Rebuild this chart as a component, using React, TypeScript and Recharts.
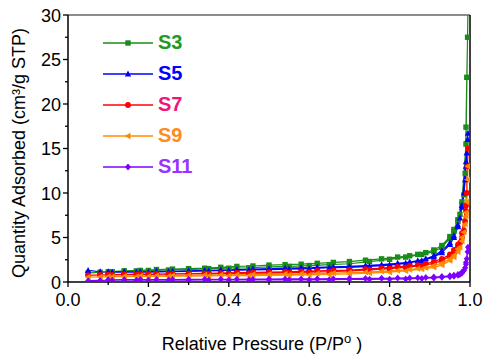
import { LineChart, Line, XAxis, YAxis } from "recharts";

// relative pressure (P/Po) of the adsorption and desorption branches
const P_ADS = [0.05, 0.08, 0.11, 0.14, 0.17, 0.2, 0.25, 0.3, 0.35, 0.4, 0.45, 0.5, 0.55, 0.6, 0.65, 0.7, 0.75, 0.8, 0.84, 0.88, 0.91, 0.93, 0.95, 0.96, 0.97, 0.975, 0.98, 0.985, 0.988, 0.99, 0.992, 0.994, 0.995];
const P_DES = [0.99, 0.98, 0.97, 0.96, 0.95, 0.93, 0.91, 0.89, 0.87, 0.85, 0.82, 0.78, 0.74, 0.7, 0.66, 0.62, 0.58, 0.54, 0.5, 0.46, 0.42, 0.38, 0.34, 0.3, 0.26, 0.22, 0.18, 0.14, 0.1];

// quantity adsorbed, cm3/g STP
const S3_ADS = [1.0, 1.1, 1.15, 1.2, 1.25, 1.3, 1.35, 1.4, 1.5, 1.55, 1.6, 1.7, 1.75, 1.85, 1.95, 2.05, 2.3, 2.55, 2.8, 3.1, 3.4, 3.9, 4.9, 5.7, 6.8, 7.6, 8.7, 9.8, 12.2, 17.4, 23, 27.5, 31];
const S3_DES = [15.5, 9.0, 7.0, 5.9, 5.1, 4.1, 3.6, 3.3, 3.1, 2.95, 2.8, 2.6, 2.45, 2.3, 2.2, 2.1, 2.0, 1.95, 1.9, 1.8, 1.75, 1.65, 1.55, 1.5, 1.45, 1.4, 1.3, 1.25, 1.15];
const S5_ADS = [1.3, 1.15, 1.1, 1.1, 1.1, 1.1, 1.15, 1.2, 1.25, 1.3, 1.35, 1.4, 1.45, 1.5, 1.6, 1.65, 1.75, 1.9, 2.1, 2.4, 2.8, 3.3, 4.2, 5.0, 6.2, 7.2, 8.4, 10, 11.5, 13, 14.5, 16, 16.7];
const S5_DES = [13.5, 8.6, 6.4, 5.2, 4.4, 3.5, 2.95, 2.6, 2.4, 2.25, 2.1, 1.95, 1.85, 1.75, 1.7, 1.65, 1.6, 1.55, 1.5, 1.45, 1.4, 1.35, 1.3, 1.25, 1.2, 1.2, 1.15, 1.15, 1.15];
const S7_ADS = [0.75, 0.8, 0.8, 0.82, 0.85, 0.85, 0.88, 0.9, 0.92, 0.95, 0.98, 1.0, 1.05, 1.1, 1.15, 1.25, 1.35, 1.5, 1.65, 1.85, 2.1, 2.4, 2.9, 3.3, 3.9, 4.4, 5.0, 5.8, 6.8, 8.0, 10, 13, 15];
const S7_DES = [8.6, 5.5, 4.2, 3.6, 3.1, 2.6, 2.3, 2.05, 1.9, 1.8, 1.7, 1.55, 1.45, 1.35, 1.3, 1.25, 1.2, 1.15, 1.1, 1.08, 1.05, 1.0, 0.98, 0.95, 0.92, 0.9, 0.88, 0.85, 0.82];
const S9_ADS = [0.55, 0.58, 0.6, 0.6, 0.62, 0.62, 0.65, 0.66, 0.68, 0.7, 0.72, 0.75, 0.78, 0.8, 0.85, 0.9, 1.0, 1.1, 1.25, 1.45, 1.65, 1.9, 2.4, 2.8, 3.4, 3.9, 4.6, 5.6, 6.5, 7.4, 9, 11.5, 13];
const S9_DES = [7.8, 5.0, 3.7, 3.0, 2.6, 2.1, 1.85, 1.6, 1.5, 1.4, 1.3, 1.2, 1.1, 1.05, 1.0, 0.95, 0.92, 0.9, 0.88, 0.85, 0.82, 0.8, 0.78, 0.75, 0.72, 0.7, 0.68, 0.66, 0.62];
const S11_ADS = [0.15, 0.18, 0.2, 0.2, 0.2, 0.22, 0.22, 0.22, 0.23, 0.23, 0.24, 0.24, 0.25, 0.25, 0.26, 0.28, 0.3, 0.32, 0.35, 0.4, 0.45, 0.52, 0.6, 0.65, 0.75, 0.85, 1.0, 1.3, 1.6, 2.0, 2.6, 3.4, 3.9];
const S11_DES = [2.2, 1.1, 0.85, 0.75, 0.7, 0.62, 0.55, 0.5, 0.48, 0.46, 0.44, 0.42, 0.4, 0.38, 0.37, 0.36, 0.35, 0.34, 0.33, 0.32, 0.31, 0.3, 0.3, 0.29, 0.28, 0.28, 0.27, 0.26, 0.25];

const X_TICKS = [0, 0.1, 0.2, 0.3, 0.4, 0.5, 0.6, 0.7, 0.8, 0.9, 1.0];
const Y_TICKS = [0, 2.5, 5, 7.5, 10, 12.5, 15, 17.5, 20, 22.5, 25, 27.5, 30];
const Y_MAJOR = [0, 5, 10, 15, 20, 25, 30];

const FONT = "'Liberation Sans', Arial, sans-serif";

type Shape = "square" | "triangle" | "circle" | "left" | "diamond";

const SERIES: { name: string; ads: number[]; des: number[]; color: string; label: string; shape: Shape }[] = [
  { name: "S3", ads: S3_ADS, des: S3_DES, color: "#1a8c1a", label: "#229a22", shape: "square" },
  { name: "S5", ads: S5_ADS, des: S5_DES, color: "#0000ff", label: "#0000ff", shape: "triangle" },
  { name: "S7", ads: S7_ADS, des: S7_DES, color: "#ff0000", label: "#f0157a", shape: "circle" },
  { name: "S9", ads: S9_ADS, des: S9_DES, color: "#ff8c00", label: "#ff8c1a", shape: "left" },
  { name: "S11", ads: S11_ADS, des: S11_DES, color: "#8000ff", label: "#9933ff", shape: "diamond" },
];

function toPoints(ads: number[], des: number[]) {
  return [
    ...P_ADS.map((p, i) => ({ p, q: ads[i] })),
    ...P_DES.map((p, i) => ({ p, q: des[i] })),
  ];
}

function Marker({ cx, cy, shape, color }: { cx: number; cy: number; shape: Shape; color: string }) {
  if (shape === "square") return <rect x={cx - 2.7} y={cy - 2.7} width={5.4} height={5.4} fill={color} />;
  if (shape === "triangle")
    return <path d={`M${cx},${cy - 3.5}L${cx + 3.2},${cy + 2.5}L${cx - 3.2},${cy + 2.5}Z`} fill={color} />;
  if (shape === "circle") return <circle cx={cx} cy={cy} r={2.9} fill={color} />;
  if (shape === "left")
    return <path d={`M${cx - 3.5},${cy}L${cx + 2.5},${cy - 3.2}L${cx + 2.5},${cy + 3.2}Z`} fill={color} />;
  return <path d={`M${cx},${cy - 3.5}L${cx + 3},${cy}L${cx},${cy + 3.5}L${cx - 3},${cy}Z`} fill={color} />;
}

function BottomTick({ x, y, payload }: any) {
  const major = Math.round(payload.value * 10) % 2 === 0;
  return (
    <g>
      <line x1={x} x2={x} y1={y} y2={y + (major ? 5 : 3)} stroke="#000" strokeWidth={1.3} />
      {major && (
        <text x={x} y={y + 24} textAnchor="middle" fontSize={18} fontFamily={FONT} fill="#000">
          {payload.value.toFixed(1)}
        </text>
      )}
    </g>
  );
}

function TopTick({ x, y }: any) {
  return <line x1={x} x2={x} y1={y} y2={y + 4} stroke="#000" strokeWidth={1.2} />;
}

function LeftTick({ x, y, payload }: any) {
  const major = Y_MAJOR.includes(payload.value);
  return (
    <g>
      <line x1={x} x2={x - (major ? 5 : 3)} y1={y} y2={y} stroke="#000" strokeWidth={1.3} />
      {major && (
        <text x={x - 7} y={y + 6.5} textAnchor="end" fontSize={18} fontFamily={FONT} fill="#000">
          {payload.value}
        </text>
      )}
    </g>
  );
}

function RightTick({ x, y }: any) {
  return <line x1={x} x2={x - 4} y1={y} y2={y} stroke="#000" strokeWidth={1.2} />;
}

export default function App() {
  return (
    <div style={{ position: "absolute", left: 0, top: 0, width: 485, height: 355, background: "#fff" }}>
      <LineChart width={485} height={355} margin={{ top: 10, right: 0, bottom: 43, left: 18 }}>
        <XAxis
          dataKey="p"
          type="number"
          domain={[0, 1]}
          ticks={X_TICKS}
          allowDataOverflow
          tickLine={false}
          tickSize={0}
          tickMargin={0}
          height={30}
          axisLine={{ stroke: "#000", strokeWidth: 1.5 }}
          tick={<BottomTick />}
          interval={0}
        />
        <XAxis
          xAxisId="top"
          orientation="top"
          dataKey="p"
          type="number"
          domain={[0, 1]}
          ticks={X_TICKS}
          tickLine={false}
          tickSize={0}
          tickMargin={0}
          height={5}
          axisLine={{ stroke: "#666", strokeWidth: 1.5 }}
          tick={<TopTick />}
          interval={0}
        />
        <YAxis
          type="number"
          domain={[0, 30]}
          ticks={Y_TICKS}
          allowDataOverflow
          tickLine={false}
          tickSize={0}
          tickMargin={0}
          width={50}
          axisLine={{ stroke: "#000", strokeWidth: 1.5 }}
          tick={<LeftTick />}
          interval={0}
        />
        <YAxis
          yAxisId="right"
          orientation="right"
          type="number"
          domain={[0, 30]}
          ticks={Y_MAJOR}
          tickLine={false}
          tickSize={0}
          tickMargin={0}
          width={15}
          axisLine={{ stroke: "#000", strokeWidth: 1.5 }}
          tick={<RightTick />}
          interval={0}
        />
        {SERIES.map((s) => (
          <Line
            key={s.name}
            data={toPoints(s.ads, s.des)}
            dataKey="q"
            type="linear"
            stroke={s.color}
            strokeWidth={1.2}
            isAnimationActive={false}
            dot={(props: any) => (
              <Marker key={`${s.name}-${props.index}`} cx={props.cx} cy={props.cy} shape={s.shape} color={s.color} />
            )}
            activeDot={false}
          />
        ))}
      </LineChart>

      {/* legend */}
      <div style={{ position: "absolute", left: 103, top: 27, fontFamily: FONT }}>
        {SERIES.map((s) => (
          <div key={s.name} style={{ display: "flex", alignItems: "center", height: 31 }}>
            <svg width={50} height={12}>
              <line x1={0} x2={50} y1={6} y2={6} stroke={s.color} strokeWidth={1.3} />
              <Marker cx={25} cy={6} shape={s.shape} color={s.color} />
            </svg>
            <span style={{ marginLeft: 5, fontSize: 20, fontWeight: "bold", color: s.label }}>{s.name}</span>
          </div>
        ))}
      </div>

      {/* axis titles */}
      <div
        style={{
          position: "absolute",
          left: 19 - 160,
          top: 153 - 11,
          width: 320,
          height: 22,
          lineHeight: "22px",
          textAlign: "center",
          transform: "rotate(-90deg)",
          fontFamily: FONT,
          fontSize: 18,
          whiteSpace: "nowrap",
        }}
      >
        Quantity Adsorbed (cm³/g STP)
      </div>
      <div
        style={{
          position: "absolute",
          left: 262 - 160,
          top: 328,
          width: 320,
          lineHeight: "22px",
          textAlign: "center",
          fontFamily: FONT,
          fontSize: 18,
          whiteSpace: "nowrap",
        }}
      >
        Relative Pressure (P/P<sup style={{ fontSize: 13 }}>o</sup> )
      </div>
    </div>
  );
}
